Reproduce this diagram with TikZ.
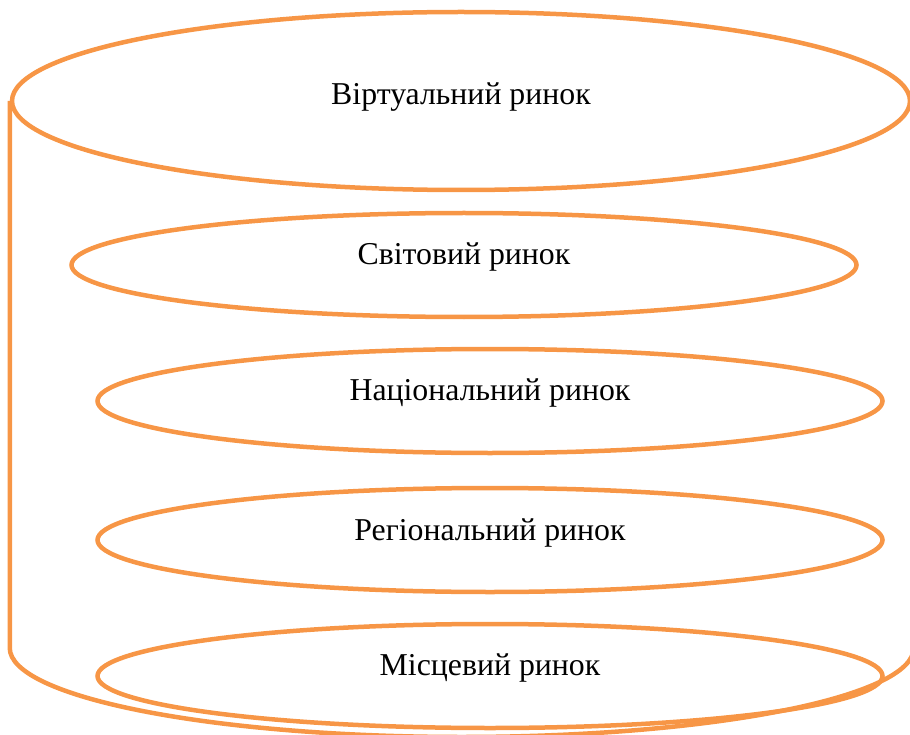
\documentclass[tikz,border=0pt]{standalone}
\usepackage{fontspec}
\setmainfont{Liberation Serif}
\usetikzlibrary{shapes.geometric}
\definecolor{acc}{HTML}{F79646}
\begin{document}
\begin{tikzpicture}[x=1pt,y=1pt,
  ring/.style={draw=acc,line width=4.5pt,ellipse,inner sep=0pt,minimum width=785pt,minimum height=104pt},
  lbl/.style={font=\fontsize{31.8}{36}\selectfont,inner sep=0pt}]
\useasboundingbox (0,0) rectangle (910,-735);
\clip (0,0) rectangle (910,-735);
\node[ring,minimum width=898pt,minimum height=178pt] (top) at (461,-101) {};
\coordinate (br) at (916,-101);
\draw[acc,line width=4.5pt,line join=round] (top.west) -- ++(0,-547)
  arc[start angle=180,end angle=360,x radius=452,y radius=89] -- (br);
\node[ring] (e1) at (464,-265) {};
\node[ring] (e2) at (490,-401) {};
\node[ring] (e3) at (490,-540) {};
\node[ring] (e4) at (490,-676) {};
\node[lbl] (t0) at ([yshift=4pt]top.center) {Віртуальний ринок};
\node[lbl] (t1) at ([yshift=8pt]e1.center) {Світовий ринок};
\node[lbl] (t2) at ([yshift=8pt]e2.center) {Національний ринок};
\node[lbl] (t3) at ([yshift=7pt]e3.center) {Регіональний ринок};
\node[lbl] (t4) at ([yshift=8pt]e4.center) {Місцевий ринок};
\end{tikzpicture}
\end{document}
